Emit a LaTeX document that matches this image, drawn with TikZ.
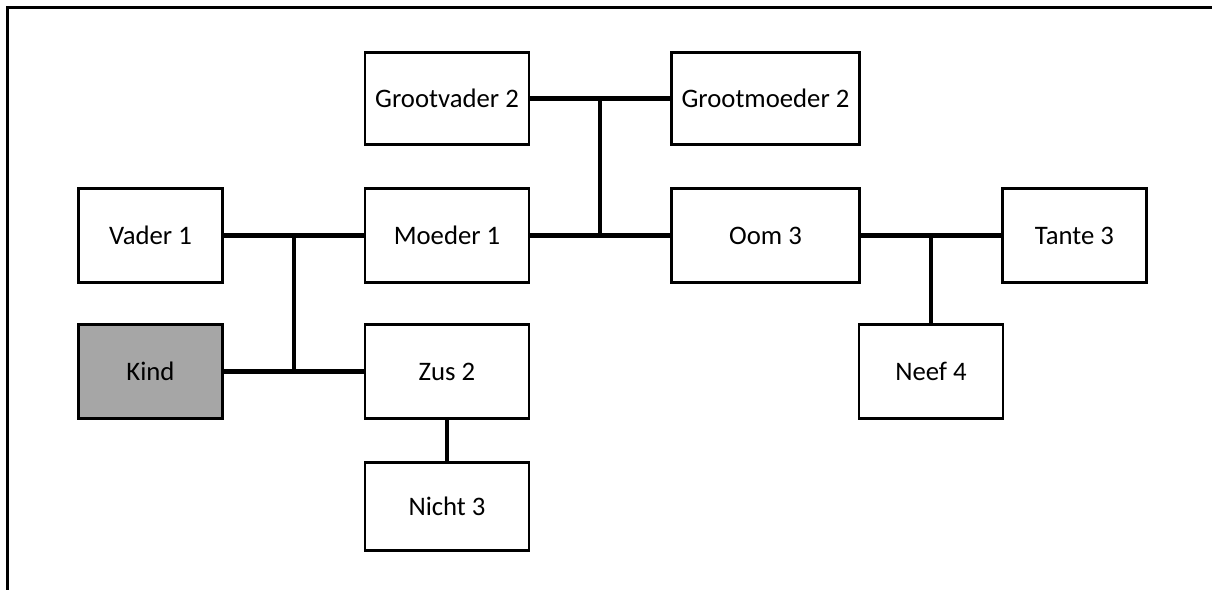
\documentclass[tikz,border=0pt]{standalone}
\usepackage{fontspec}
\setmainfont{Carlito}
\usetikzlibrary{calc}

\tikzset{
    persoon/.style = {draw, line width = 0.6mm, inner sep = 0,
        minimum height = 2.35cm, font = \fontsize{19}{22}\selectfont},
    smal/.style = {persoon, minimum width = 3.6cm},
    midden/.style = {persoon, minimum width = 4.1cm},
    breed/.style = {persoon, minimum width = 4.7cm},
    lijn/.style = {line width = 1.05mm}
}

\begin{document}
\begin{tikzpicture}[x = 0.025cm, y = -0.025cm]

    \useasboundingbox (0, 0) rectangle (1212, 590);

    \draw[line width = 0.6mm]
        (7.5, 600) -- (7.5, 7.5) -- (1220, 7.5);

    % bovenste generatie
    \node[midden, minimum height = 2.3cm] (grootvader) at (447, 98.5) {Grootvader 2};
    \node[breed, minimum height = 2.3cm] (grootmoeder) at (765.5, 98.5) {Grootmoeder 2};

    % ouders
    \node[smal] (vader) at (150.5, 235.5) {Vader 1};
    \node[midden] (moeder) at (447, 235.5) {Moeder 1};
    \node[breed] (oom) at (765.5, 235.5) {Oom 3};
    \node[smal] (tante) at (1074.5, 235.5) {Tante 3};

    % kinderen
    \node[smal, fill = black!35] (kind) at (150.5, 371.5) {Kind};
    \node[midden] (zus) at (447, 371.5) {Zus 2};
    \node[smal] (neef) at (931, 371.5) {Neef 4};
    \node[midden, minimum height = 2.2cm] (nicht) at (447, 506.5) {Nicht 3};

    % verbindingen
    \draw[lijn] (grootvader) -- (grootmoeder);
    \draw[lijn] (moeder) -- (oom);
    \draw[lijn] (vader) -- (moeder);
    \draw[lijn] (kind) -- (zus);
    \draw[lijn] (oom) -- (tante);

    \coordinate (k1) at ($(vader.east)!0.5!(moeder.west)$);
    \draw[lijn] (k1) -- (k1 |- kind.east);

    \coordinate (k2) at ($(grootvader.east)!0.5!(grootmoeder.west)$);
    \draw[lijn] (k2) -- (k2 |- moeder.east);

    \coordinate (k3) at ($(oom.east)!0.5!(tante.west)$);
    \draw[lijn] (k3) -- (k3 |- neef.north);

    \draw[lijn] (zus) -- (nicht);

\end{tikzpicture}
\end{document}
